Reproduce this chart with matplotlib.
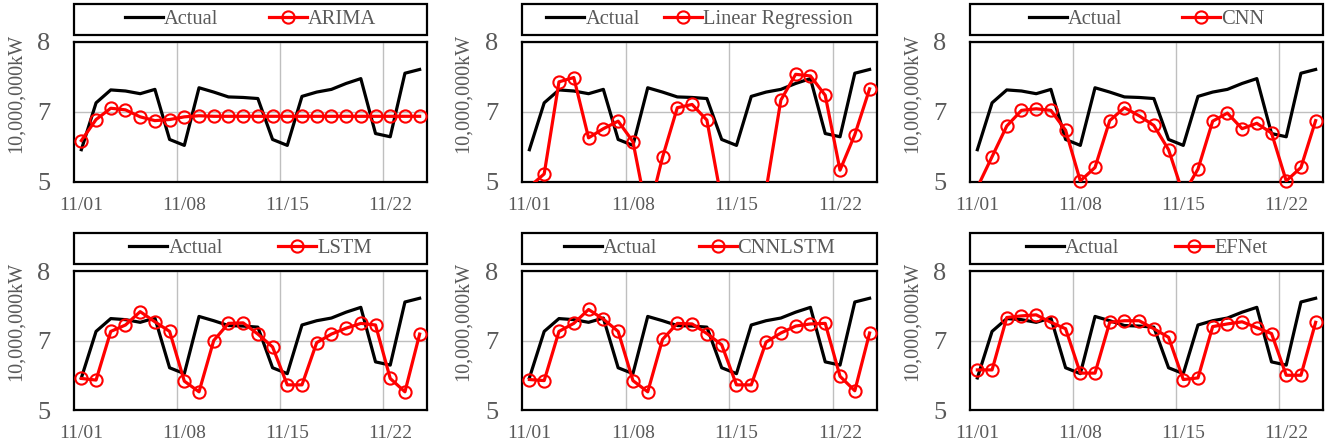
import numpy as np
import matplotlib.pyplot as plt
from matplotlib.lines import Line2D
from matplotlib.patches import Rectangle
from matplotlib.ticker import FormatStrFormatter

plt.rcParams['font.family'] = ['Liberation Serif', 'DejaVu Serif']

# %% Data (day of November, 10,000,000 kW)
days = np.arange(1, 25)
date_ticks = [1, 8, 15, 22]
date_labels = ['11/01', '11/08', '11/15', '11/22']
y_ticks = [5.4, 6.7, 8.0]

actual = [6.00, 6.87, 7.11, 7.09, 7.04, 7.12, 6.19, 6.08, 7.15, 7.07, 6.98, 6.97,
          6.95, 6.19, 6.08, 6.99, 7.07, 7.12, 7.23, 7.32, 6.30, 6.24, 7.42, 7.49]

models = ['ARIMA', 'Linear Regression', 'CNN', 'LSTM', 'CNNLSTM', 'EFNet']

arima = [6.17, 6.56, 6.77, 6.74, 6.61, 6.54, 6.56, 6.61, 6.63, 6.62, 6.62, 6.62,
         6.62, 6.62, 6.62, 6.62, 6.62, 6.62, 6.62, 6.62, 6.62, 6.62, 6.62, 6.62]
linreg = [5.31, 5.55, 7.26, 7.34, 6.22, 6.39, 6.53, 6.15, 4.75, 5.86, 6.78, 6.84,
          6.55, 5.05, 4.60, 4.70, 5.25, 6.92, 7.40, 7.37, 7.01, 5.62, 6.28, 7.13]
cnn = [5.30, 5.87, 6.44, 6.73, 6.76, 6.73, 6.36, 5.42, 5.67, 6.54, 6.78, 6.63,
       6.45, 6.00, 5.17, 5.64, 6.53, 6.68, 6.39, 6.49, 6.31, 5.42, 5.67, 6.54]
lstm = [5.99, 5.96, 6.87, 6.99, 7.24, 7.05, 6.87, 5.94, 5.74, 6.70, 7.02, 7.03,
        6.82, 6.58, 5.87, 5.87, 6.66, 6.82, 6.93, 7.02, 6.99, 5.99, 5.74, 6.82]
cnnlstm = [5.97, 5.95, 6.87, 7.02, 7.28, 7.10, 6.87, 5.95, 5.74, 6.72, 7.02, 7.01,
           6.83, 6.62, 5.87, 5.87, 6.67, 6.84, 6.97, 7.01, 7.02, 6.03, 5.76, 6.84]
efnet = [6.15, 6.15, 7.13, 7.16, 7.18, 7.04, 6.92, 6.09, 6.09, 7.04, 7.07, 7.07,
         6.92, 6.76, 5.97, 6.00, 6.96, 7.01, 7.05, 6.94, 6.83, 6.05, 6.05, 7.04]

preds = [arima, linreg, cnn, lstm, cnnlstm, efnet]

# %% Layout (pixels)
W, H = 1333, 448
lefts = [74, 522, 970]
widths = [353, 355, 353]
tops = [42, 271]
heights = [140, 139]
gray = '#595959'
leg_fs = 14.8

fig = plt.figure(figsize=(W / 100, H / 100), dpi=100)
handles = [Line2D([], [], color='black', lw=2.3),
           Line2D([], [], color='red', lw=2.3, marker='o', ms=8.8, mfc='none',
                  mec='red', mew=1.5)]


def add_legend(ax, name, hgt, colsp):
    return ax.legend(handles, ['Actual', name], loc='center',
                     bbox_to_anchor=(0.5, 1 + 22.5 / hgt), ncol=2, frameon=False,
                     fontsize=leg_fs, handlelength=1.85, handletextpad=0.05,
                     columnspacing=colsp, labelcolor=gray, borderaxespad=0, borderpad=0)


axes = []
for i, (name, pred) in enumerate(zip(models, preds)):
    r, c = divmod(i, 3)
    hgt = heights[r]
    ax = fig.add_axes([lefts[c] / W, (H - tops[r] - hgt) / H, widths[c] / W, hgt / H])

    pred = np.array(pred)
    ax.plot(days, actual, color='black', lw=2.3, zorder=3)
    ax.plot(days, pred, color='red', lw=2.3, zorder=4)
    # markers only for points inside the axis range, drawn unclipped
    inside = np.where((pred >= 5.4) & (pred <= 8.0), pred, np.nan)
    ax.plot(days, inside, ls='none', marker='o', ms=8.8, mfc='none', mec='red',
            mew=1.5, clip_on=False, zorder=5)

    ax.set_xlim(0.5, 24.5)
    ax.set_ylim(5.4, 8.0)
    ax.set_xticks(date_ticks)
    ax.set_xticklabels(date_labels)
    ax.set_xticks([7.5, 14.5, 21.5], minor=True)
    ax.set_yticks(y_ticks)
    ax.yaxis.set_major_formatter(FormatStrFormatter('%.0f'))
    ax.grid(axis='x', which='minor', color='#BFBFBF', lw=1)
    ax.grid(axis='y', which='major', color='#BFBFBF', lw=1)
    ax.tick_params(which='both', length=0)
    ax.tick_params(axis='x', labelsize=14, pad=11, labelcolor=gray)
    ax.tick_params(axis='y', labelsize=19, pad=17, labelcolor=gray)
    for s in ax.spines.values():
        s.set_linewidth(1.6)
        s.set_color('black')

    ax.set_ylabel('10,000,000kW', fontsize=14.5, color=gray)
    ax.yaxis.set_label_coords(-0.138, 0.635)

    # legend box above the plot
    ax.add_patch(Rectangle((0, 1 + 7 / hgt), 1, 31 / hgt, transform=ax.transAxes,
                           facecolor='white', edgecolor='black', lw=1.6, clip_on=False))
    add_legend(ax, name, hgt, 0)
    axes.append((ax, name, hgt))

# spread legend entries so the free space is split evenly (left, middle, right)
fig.canvas.draw()
fs_px = leg_fs * 100 / 72
for ax, name, hgt in axes:
    content = ax.get_legend().get_window_extent().width
    gap = (ax.get_window_extent().width - content) / 3
    add_legend(ax, name, hgt, gap / fs_px)

fig.savefig('out.png', dpi=100)
